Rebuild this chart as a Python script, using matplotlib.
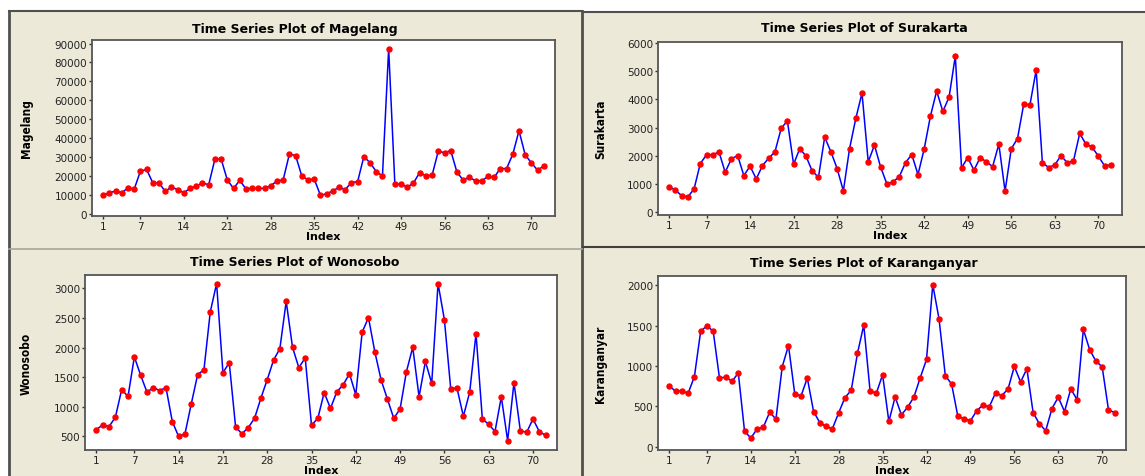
import matplotlib
matplotlib.use("Agg")
import matplotlib.pyplot as plt
from matplotlib.lines import Line2D
from matplotlib.patches import Rectangle
import numpy as np

# data (index 1..72)
magelang = [9700, 11100, 12000, 11100, 13700, 13000, 22500, 23400, 16300, 16300,
            11800, 14200, 12700, 11100, 13400, 14600, 16300, 15300, 28800, 29000,
            17900, 13400, 17600, 13200, 13400, 13400, 13400, 14900, 17200, 17900,
            31500, 30800, 20000, 17900, 18400, 9800, 10500, 12100, 14000, 12800,
            16500, 17000, 30200, 27000, 22300, 20000, 87300, 15500, 15800, 14000,
            16300, 21800, 20000, 20400, 33200, 32200, 33400, 22000, 17800, 19300,
            17400, 17400, 19700, 19300, 23900, 23900, 31500, 43900, 31100, 26900,
            23000, 25300]
surakarta = [911, 781, 592, 544, 828, 1728, 2036, 2036, 2142, 1420,
             1893, 2012, 1302, 1633, 1183, 1657, 1917, 2142, 2970, 3243,
             1704, 2260, 1988, 1456, 1243, 2663, 2142, 1550, 757, 2260,
             3325, 4225, 1787, 2379, 1598, 1006, 1077, 1266, 1763, 2047,
             1337, 2249, 3408, 4296, 3574, 4083, 5538, 1574, 1941, 1491,
             1941, 1787, 1621, 2414, 746, 2249, 2615, 3834, 3811, 5041,
             1763, 1586, 1680, 2012, 1751, 1822, 2793, 2414, 2308, 1988,
             1645, 1680]
wonosobo = [612, 690, 662, 819, 1289, 1171, 1842, 1529, 1244, 1322,
            1272, 1322, 746, 494, 539, 1048, 1540, 1624, 2603, 3084,
            1574, 1742, 657, 539, 645, 802, 1143, 1456, 1786, 1982,
            2782, 2004, 1658, 1826, 685, 802, 1238, 970, 1250, 1367,
            1557, 1199, 2256, 2508, 1932, 1451, 1126, 802, 959, 1591,
            2004, 1166, 1764, 1395, 3084, 2474, 1305, 1311, 836, 1244,
            2234, 791, 701, 578, 1166, 422, 1406, 595, 562, 791,
            578, 511]
karanganyar = [752, 686, 690, 661, 867, 1429, 1499, 1429, 850, 862,
               809, 912, 189, 107, 218, 242, 427, 341, 990, 1253,
               653, 628, 850, 435, 296, 250, 222, 419, 608, 698,
               1158, 1507, 694, 661, 891, 312, 616, 394, 489, 616,
               854, 1080, 2008, 1581, 879, 776, 374, 345, 320, 444,
               517, 493, 665, 632, 715, 994, 801, 965, 419, 283,
               197, 472, 612, 435, 715, 583, 1454, 1203, 1060, 990,
               460, 419]
xticks = [1, 7, 14, 21, 28, 35, 42, 49, 56, 63, 70]

W, H = 1145, 477
BG = "#ECE9D8"
fig = plt.figure(figsize=(W / 100, H / 100), dpi=100)
fig.patch.set_facecolor("white")


def fx(px):
    return px / W


def fy(py):
    return 1 - py / H


# beige Minitab panel area, drawn under the axes
fig.patches.append(Rectangle((fx(9), 0), (W - 9) / W, (H - 12) / H,
                             transform=fig.transFigure, facecolor=BG,
                             edgecolor="none", zorder=-5))
# panel borders
borders = [(9, 12, 9, 477, "#505050", 2), (9, 12, 582, 12, "#505050", 1.5),
           (582, 12, 582, 477, "#505050", 2), (583, 13, 1145, 13, "#505050", 1.5),
           (9, 250, 582, 250, "#A8A49A", 1.2), (583, 248, 1145, 248, "#404040", 1.5)]
for (x0, y0, x1, y1, c, lw) in borders:
    fig.add_artist(Line2D([fx(x0), fx(x1)], [fy(y0), fy(y1)], color=c, lw=lw,
                          transform=fig.transFigure))

panels = [
    (magelang, "Magelang", (92, 41, 555, 217), (-1200, 91900), range(0, 90001, 10000), 295, 29, 33),
    (surakarta, "Surakarta", (658, 43, 1122, 216), (-96, 6035), range(0, 6001, 1000), 864, 29, 607),
    (wonosobo, "Wonosobo", (85, 276, 557, 451), (265, 3228), range(500, 3001, 500), 295, 263, 33),
    (karanganyar, "Karanganyar", (658, 277, 1126, 451), (-42, 2115), range(0, 2001, 500), 864, 264, 607),
]

idx = np.arange(1, 73)
for vals, name, (x0, y0, x1, y1), ylim, yt, tx, ty, lx in panels:
    ax = fig.add_axes([fx(x0), fy(y1), (x1 - x0) / W, (y1 - y0) / H])
    ax.set_facecolor("white")
    ax.plot(idx, vals, color="#0000FF", lw=1.1, marker="o", markersize=3.6,
            markerfacecolor="#FF0000", markeredgecolor="#FF0000")
    ax.set_xlim(-0.8, 73.8)
    ax.set_ylim(*ylim)
    ax.set_xticks(xticks)
    ax.set_yticks(list(yt))
    ax.tick_params(direction="out", length=2.5, width=1, pad=1, labelsize=7.5,
                   colors="#333333", labelcolor="#222222")
    for s in ax.spines.values():
        s.set_color("#555555")
        s.set_linewidth(1.3)
    ax.set_xlabel("Index", fontsize=8, fontweight="bold", labelpad=0)
    ax.set_ylabel(name, fontsize=8.5, fontweight="bold", fontstretch="condensed",
                  family=["Liberation Sans Narrow", "DejaVu Sans"])
    ax.yaxis.set_label_coords((lx - x0) / (x1 - x0), 0.5)
    fig.text(fx(tx), fy(ty), "Time Series Plot of " + name, ha="center", va="center",
             fontsize=9, fontweight="bold")

fig.savefig("out.png", dpi=100, facecolor="white")
